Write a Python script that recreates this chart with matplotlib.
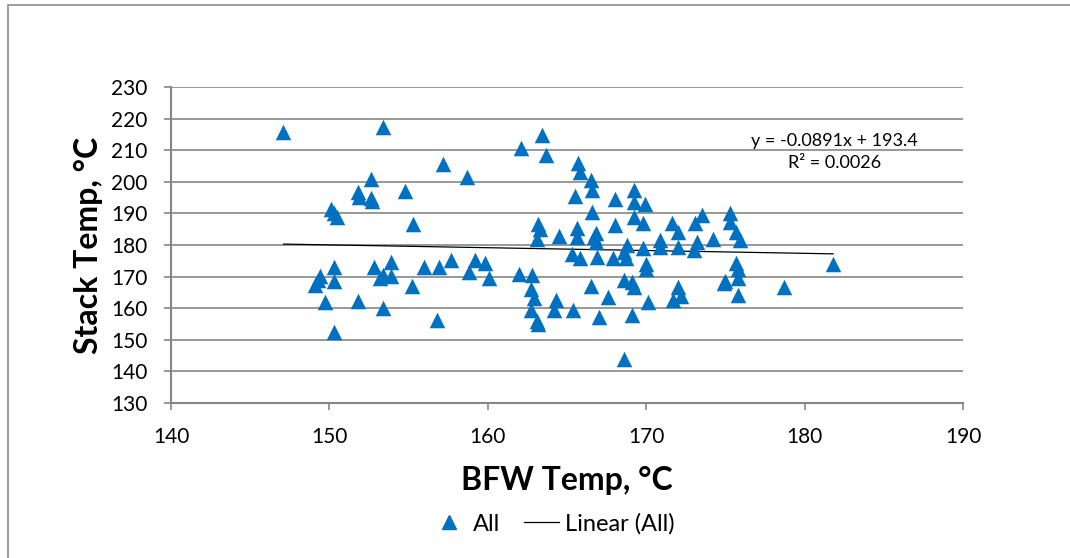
import numpy as np
import matplotlib
matplotlib.use("Agg")
from matplotlib import pyplot as plt
from matplotlib.lines import Line2D
from matplotlib.patches import Rectangle

plt.rcParams['font.family'] = ['Lato', 'DejaVu Sans']

# BFW temp (x) vs stack temp (y)
bfw = [147.1, 153.4, 152.6, 151.8, 151.9, 152.6, 152.7, 154.8, 150.1, 150.3,
       150.5, 155.3, 149.4, 149.3, 149.1, 150.3, 150.3, 149.7, 150.3, 151.8,
       152.8, 153.2, 153.4, 153.9, 153.9, 153.4, 155.2, 156.0, 156.8, 157.2,
       158.7, 156.9, 157.7, 159.2, 158.8, 159.8, 160.1,
       162.1, 163.4, 163.7, 162.0, 162.8, 162.7, 162.9, 162.7, 163.1, 163.2,
       163.2, 163.3, 163.1, 164.5, 164.3, 164.2, 165.4, 165.7, 165.8, 165.5,
       165.6, 165.6, 165.3, 165.8, 166.5, 166.6, 166.6, 166.8, 166.7, 166.8,
       166.9, 166.5, 167.0, 167.6, 168.0, 168.0, 167.9, 168.7, 168.8, 168.6,
       168.6, 169.1, 169.2, 168.6, 169.1, 169.2, 169.2, 169.2, 169.9, 169.8,
       169.8, 170.0, 170.0, 170.1, 170.9, 170.9, 171.6, 172.0, 172.0, 172.0,
       172.2, 171.7, 173.1, 173.5, 173.2, 173.0, 174.2, 175.3, 175.3, 175.7,
       175.9, 175.7, 175.8, 175.8, 175.0, 174.9, 175.8, 178.7, 181.8]
stack = [215.9, 217.2, 200.8, 196.9, 195.3, 194.8, 194.0, 197.1, 191.3, 190.0,
         189.0, 186.7, 170.3, 169.0, 167.2, 173.1, 168.7, 162.0, 152.4, 162.4,
         173.0, 169.5, 170.6, 174.6, 170.3, 160.0, 167.0, 172.9, 156.3, 205.6,
         201.6, 173.0, 175.1, 175.1, 171.3, 174.2, 169.5,
         210.7, 214.8, 208.6, 170.8, 170.6, 166.0, 163.1, 159.5, 155.9, 155.1,
         186.6, 185.0, 182.0, 183.0, 162.6, 159.4, 159.4, 205.9, 203.2, 195.5,
         185.3, 182.4, 177.3, 175.8, 200.6, 197.4, 190.6, 183.7, 182.6, 181.0,
         176.1, 167.0, 157.2, 163.6, 194.6, 186.3, 175.8, 175.8, 180.0, 177.9,
         168.9, 168.4, 166.8, 143.9, 157.8, 197.4, 193.7, 189.0, 193.1, 186.9,
         179.0, 174.0, 172.3, 162.0, 181.6, 179.5, 186.9, 184.2, 179.5, 166.8,
         164.0, 162.7, 187.0, 189.5, 181.0, 178.4, 181.8, 190.1, 187.2, 184.2,
         181.5, 174.2, 172.4, 169.6, 168.6, 168.1, 164.2, 166.8, 174.0]

# Excel trendline as printed on the chart
slope = -0.0891
intercept = 193.4
r2 = 0.0026

x_ticks = [140, 150, 160, 170, 180, 190]
y_ticks = [130, 140, 150, 160, 170, 180, 190, 200, 210, 220, 230]

blue = '#0070C0'
gray = '#868686'

fig = plt.figure(figsize=(10.7, 5.58), dpi=100)
# outer chart frame (only top/left edges show in the picture)
fig.patches.append(Rectangle((8 / 1070, -0.1), 1.2, 1 - 5 / 558 + 0.1, transform=fig.transFigure,
                             fill=False, edgecolor='#8c8c8c', linewidth=1.2))
ax = fig.add_axes([171 / 1070, 1 - 403 / 558, 792 / 1070, 316 / 558])

ax.scatter(bfw, stack, marker='^', s=125, color=blue, linewidths=0, zorder=3)
xs = np.array([min(bfw), max(bfw)])
ax.plot(xs, slope * xs + intercept, color='black', lw=0.9, zorder=2)

ax.set_xlim(140, 190)
ax.set_ylim(130, 230)
ax.set_xticks(x_ticks)
ax.set_yticks(y_ticks)
ax.yaxis.grid(True, color=gray, lw=1.2)
ax.set_axisbelow(True)
for s in ['top', 'right']:
    ax.spines[s].set_visible(False)
for s in ['left', 'bottom']:
    ax.spines[s].set_color(gray)
    ax.spines[s].set_linewidth(1.5)
ax.tick_params(axis='both', colors=gray, length=5, width=1.2, labelsize=15, labelcolor='black')
ax.tick_params(axis='x', pad=12)
ax.tick_params(axis='y', pad=12)

ax.set_xlabel('BFW Temp, °C', fontsize=23, fontweight='bold', labelpad=14)
ax.set_ylabel('Stack Temp, °C', fontsize=23, fontweight='bold', labelpad=6)

ax.text(181.9, 213, 'y = %.4fx + %.1f' % (slope, intercept), fontsize=13, ha='center', va='center')
ax.text(181.9, 205.8, 'R² = %.4f' % r2, fontsize=13, ha='center', va='center')

handles = [Line2D([], [], marker='^', color=blue, ls='none', markersize=10),
           Line2D([], [], color='black', lw=0.9)]
fig.legend(handles, ['All', 'Linear (All)'], loc='center', bbox_to_anchor=(0.517, 1 - 524 / 558),
           ncol=2, frameon=False, fontsize=17, handlelength=1.5, columnspacing=1.0, handletextpad=0.25)

fig.savefig('out.png', dpi=100)
